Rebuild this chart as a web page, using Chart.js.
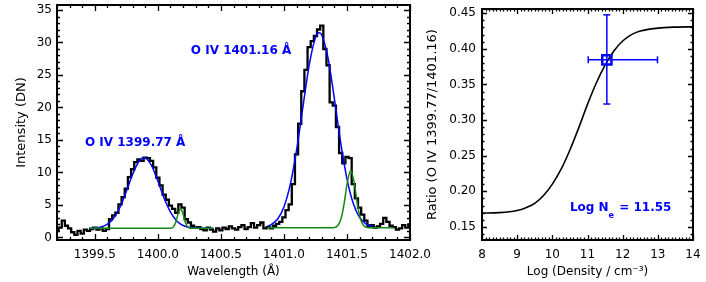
<!DOCTYPE html>
<html>
<head>
<meta charset="utf-8">
<script src="https://cdn.jsdelivr.net/npm/chart.js@4.4.1/dist/chart.umd.min.js"></script>
<style>
html, body { margin: 0; padding: 0; background: #fff; }
#left { position: absolute; left: 0; top: 0; width: 440px; height: 282px; }
#right { position: absolute; left: 415px; top: 0; width: 291px; height: 282px; }
</style>
</head>
<body>
<div id="left"><canvas id="spec"></canvas></div>
<div id="right"><canvas id="ratio"></canvas></div>
<script>
// observed spectrum, one value per 0.025 A bin starting at 1399.2
const waveStart = 1399.2
const waveStep = 0.025
const intensity = [
    1.0, 1.5, 2.6, 1.8, 1.4, 0.8, 0.4, 1.0, 0.6, 1.2,
    1.0, 1.3, 1.5, 1.2, 1.4, 1.0, 1.3, 2.8, 3.4, 3.8,
    5.1, 6.2, 7.5, 9.3, 10.5, 11.6, 12.0, 11.8, 12.3, 12.2,
    11.8, 10.8, 9.2, 8.0, 6.6, 5.8, 4.9, 4.4, 3.8, 5.1,
    4.6, 2.8, 2.3, 1.8, 1.5, 1.6, 1.3, 1.1, 1.5, 1.2,
    0.9, 1.4, 1.1, 1.5, 1.3, 1.7, 1.4, 1.2, 1.6, 1.9,
    1.3, 1.6, 2.2, 1.5, 1.9, 2.3, 1.4, 1.6, 1.4, 1.8,
    2.1, 2.4, 3.1, 4.2, 5.1, 8.2, 12.8, 17.5, 22.5, 25.8,
    29.3, 30.2, 31.0, 32.0, 32.6, 29.0, 26.5, 20.8, 20.3, 17.0,
    13.0, 11.4, 12.4, 12.2, 8.2, 6.0, 4.6, 3.5, 2.6, 1.8,
    1.9, 1.5, 1.7, 2.1, 3.0, 2.4, 1.8, 1.6, 1.2, 1.4,
    1.9, 1.5, 2.0
]

// gaussian fits (blue = O IV lines, green = blend component)
const blue1Wave = [1399.46, 1399.50, 1399.55, 1399.60, 1399.65, 1399.70, 1399.75, 1399.80, 1399.85, 1399.89, 1399.95, 1400.00, 1400.05, 1400.10, 1400.15, 1400.20, 1400.25, 1400.30, 1400.35, 1400.44]
const blue1Int = [1.42, 1.47, 1.63, 2.06, 3.00, 4.67, 7.07, 9.72, 11.73, 12.30, 11.07, 8.68, 6.04, 3.91, 2.55, 1.84, 1.54, 1.44, 1.41, 1.40]
const green1Wave = [1399.46, 1400.00, 1400.08, 1400.10, 1400.12, 1400.14, 1400.16, 1400.18, 1400.20, 1400.22, 1400.24, 1400.26, 1400.28, 1400.44]
const green1Int = [1.40, 1.40, 1.40, 1.42, 1.57, 2.23, 3.58, 4.40, 3.58, 2.23, 1.57, 1.42, 1.40, 1.40]
const blue2Wave = [1400.87, 1400.90, 1400.95, 1401.00, 1401.05, 1401.10, 1401.15, 1401.20, 1401.25, 1401.28, 1401.30, 1401.35, 1401.40, 1401.45, 1401.50, 1401.55, 1401.60, 1401.65, 1401.71]
const blue2Int = [1.75, 1.98, 2.84, 4.69, 8.12, 13.39, 20.01, 26.49, 30.74, 31.50, 31.16, 27.58, 21.38, 14.64, 9.03, 5.24, 3.11, 2.10, 1.65]
const green2Wave = [1400.87, 1401.38, 1401.40, 1401.42, 1401.44, 1401.46, 1401.48, 1401.50, 1401.53, 1401.56, 1401.58, 1401.60, 1401.62, 1401.64, 1401.66, 1401.68, 1401.87]
const green2Int = [1.50, 1.50, 1.54, 1.70, 2.20, 3.40, 5.53, 8.14, 10.30, 8.14, 5.53, 3.40, 2.20, 1.70, 1.54, 1.50, 1.50]

// theoretical ratio curve vs log density
const logDensity = [8.0, 8.5, 9.0, 9.25, 9.5, 9.75, 10.0, 10.25, 10.5, 10.75, 11.0, 11.25, 11.5, 11.75, 12.0, 12.25, 12.5, 13.0, 13.5, 14.0]
const ratioCurve = [0.1695, 0.170, 0.173, 0.177, 0.183, 0.194, 0.210, 0.231, 0.258, 0.289, 0.322, 0.352, 0.377, 0.397, 0.411, 0.420, 0.425, 0.429, 0.4305, 0.431]

// measured point with errors
const measDensity = 11.55
const measRatio = 0.3846
const densityErr = [11.02, 12.99]
const ratioErr = [0.3225, 0.4477]

const waveTicks = [1399.5, 1400.0, 1400.5, 1401.0, 1401.5, 1402.0]
const intensityTicks = [0, 5, 10, 15, 20, 25, 30, 35]
const densityTicks = [8, 9, 10, 11, 12, 13, 14]
const ratioTicks = [0.15, 0.20, 0.25, 0.30, 0.35, 0.40, 0.45]

const BLUE = '#0000ff'
const GREEN = '#138a13'
const FONT = 'DejaVu Sans'

const xy = (xs, ys) => xs.map((x, i) => ({x: x, y: ys[i]}))

const minorValues = (min, max, step) => {
    const out = []
    for (let k = Math.ceil(min / step - 1e-6); k * step <= max + 1e-9; k++) out.push(k * step)
    return out
}

// IDL style frame with inward ticks on all four sides
const frameTicks = {
    id: 'frameTicks',
    afterDraw(chart, args, opts) {
        const {ctx, chartArea: a, scales} = chart
        const sx = scales.x, sy = scales.y
        ctx.save()
        ctx.strokeStyle = '#000'
        ctx.lineWidth = 1.3
        ctx.beginPath()
        const xs = (vals, len) => vals.forEach(v => {
            const p = Math.round(sx.getPixelForValue(v)) + 0.5
            ctx.moveTo(p, a.bottom); ctx.lineTo(p, a.bottom - len)
            ctx.moveTo(p, a.top); ctx.lineTo(p, a.top + len)
        })
        const ys = (vals, len) => vals.forEach(v => {
            const p = Math.round(sy.getPixelForValue(v)) + 0.5
            ctx.moveTo(a.left, p); ctx.lineTo(a.left + len, p)
            ctx.moveTo(a.right, p); ctx.lineTo(a.right - len, p)
        })
        xs(minorValues(sx.min, sx.max, opts.xMinor), opts.minorLen)
        xs(sx.ticks.map(t => t.value), opts.majorLen)
        ys(minorValues(sy.min, sy.max, opts.yMinor), opts.minorLen)
        ys(sy.ticks.map(t => t.value), opts.majorLen)
        ctx.stroke()
        ctx.lineWidth = 2
        ctx.strokeRect(a.left, a.top, a.right - a.left, a.bottom - a.top)
        ctx.restore()
    }
}

// text labels placed in data coordinates
const notes = {
    id: 'notes',
    afterDatasetsDraw(chart, args, opts) {
        const {ctx, scales} = chart
        ctx.save()
        ctx.fillStyle = BLUE
        ctx.textBaseline = 'middle'
        const main = `bold 12px "${FONT}"`
        opts.items.forEach(n => {
            let px = scales.x.getPixelForValue(n.x)
            const py = scales.y.getPixelForValue(n.y)
            ctx.font = main
            ctx.textAlign = n.align || 'center'
            if (!n.sub) {
                ctx.fillText(n.text, px, py)
                return
            }
            ctx.textAlign = 'left'
            ctx.fillText(n.text, px, py)
            px += ctx.measureText(n.text).width
            ctx.font = `bold 8px "${FONT}"`
            ctx.fillText(n.sub, px, py + 8)
            px += ctx.measureText(n.sub).width + 1
            ctx.font = main
            ctx.fillText(n.rest, px, py)
        })
        ctx.restore()
    }
}

const tickFont = {family: FONT, size: 12}

const axis = (min, max, ticks, digits, size, labelPad, title, titleSize, titlePad) => ({
    type: 'linear',
    min: min,
    max: max,
    afterBuildTicks: s => { s.ticks = ticks.map(v => ({value: v})) },
    afterFit: s => {
        if (s.isHorizontal()) s.height = size; else s.width = size
        s.paddingTop = 0; s.paddingBottom = 0; s.paddingLeft = 0; s.paddingRight = 0
    },
    grid: {display: false, drawTicks: false},
    border: {display: false},
    ticks: {color: '#000', font: tickFont, padding: labelPad, maxRotation: 0, autoSkip: false,
        callback: v => Number(v).toFixed(digits)},
    title: {display: true, text: title, color: '#000', font: {family: FONT, size: titleSize}, padding: titlePad}
})

const line = (data, color, width) => ({
    data: data, borderColor: color, borderWidth: width, pointRadius: 0,
    fill: false, cubicInterpolationMode: 'monotone'
})

new Chart(document.getElementById('spec').getContext('2d'), {
    type: 'line',
    data: {
        datasets: [
            line(xy(green1Wave, green1Int), GREEN, 1.5),
            line(xy(green2Wave, green2Int), GREEN, 1.5),
            line(xy(blue1Wave, blue1Int), BLUE, 1.5),
            line(xy(blue2Wave, blue2Int), BLUE, 1.5),
            {
                data: intensity.map((v, i) => ({x: waveStart + waveStep * i, y: v})),
                borderColor: '#000', borderWidth: 2.3, pointRadius: 0, stepped: 'middle', fill: false
            }
        ]
    },
    options: {
        responsive: true,
        maintainAspectRatio: false,
        animation: false,
        devicePixelRatio: 1,
        layout: {padding: {left: 0, right: 30, top: 5, bottom: 0}},
        plugins: {
            legend: {display: false},
            tooltip: {enabled: false},
            frameTicks: {xMinor: 0.1, yMinor: 1, majorLen: 6, minorLen: 3},
            notes: {items: [
                {x: 1399.82, y: 14.6, text: 'O IV 1399.77 Å'},
                {x: 1400.66, y: 28.7, text: 'O IV 1401.16 Å'}
            ]}
        },
        scales: {
            x: axis(1399.2, 1402.0, waveTicks, 1, 42, 8, 'Wavelength (Å)', 12, {top: 0, bottom: 3}),
            y: axis(-0.39, 35.77, intensityTicks, 0, 57, 5, 'Intensity (DN)', 13, {top: 14, bottom: 0})
        }
    },
    plugins: [frameTicks, notes]
})

new Chart(document.getElementById('ratio').getContext('2d'), {
    type: 'line',
    data: {
        datasets: [
            {
                data: [{x: measDensity, y: measRatio}],
                showLine: false, pointStyle: 'rect', pointRadius: 6.5, pointBorderWidth: 2.5,
                pointBorderColor: BLUE, pointBackgroundColor: 'rgba(0,0,0,0)'
            },
            {
                data: [{x: measDensity, y: ratioErr[0]}, {x: measDensity, y: ratioErr[1]}],
                borderColor: BLUE, borderWidth: 1.5, pointStyle: 'line', pointRadius: 3.5,
                pointBorderColor: BLUE, pointBorderWidth: 1.5
            },
            {
                data: [{x: densityErr[0], y: measRatio}, {x: densityErr[1], y: measRatio}],
                borderColor: BLUE, borderWidth: 1.5, pointStyle: 'line', pointRotation: 90, pointRadius: 3.5,
                pointBorderColor: BLUE, pointBorderWidth: 1.5
            },
            line(xy(logDensity, ratioCurve), '#000', 1.6)
        ]
    },
    options: {
        responsive: true,
        maintainAspectRatio: false,
        animation: false,
        devicePixelRatio: 1,
        layout: {padding: {left: 0, right: 13, top: 5, bottom: 0}},
        plugins: {
            legend: {display: false},
            tooltip: {enabled: false},
            frameTicks: {xMinor: 0.1, yMinor: 0.01, majorLen: 5, minorLen: 2.5},
            notes: {items: [
                {x: 10.5, y: 0.176, text: 'Log N', sub: 'e', rest: ' = 11.55'}
            ]}
        },
        scales: {
            x: axis(8, 14, densityTicks, 0, 42, 8, 'Log (Density / cm⁻³)', 12, {top: 0, bottom: 3}),
            y: axis(0.1316, 0.4559, ratioTicks, 2, 67, 6, 'Ratio (O IV 1399.77/1401.16)', 13, {top: 10, bottom: 0})
        }
    },
    plugins: [frameTicks, notes]
})
</script>
</body>
</html>
